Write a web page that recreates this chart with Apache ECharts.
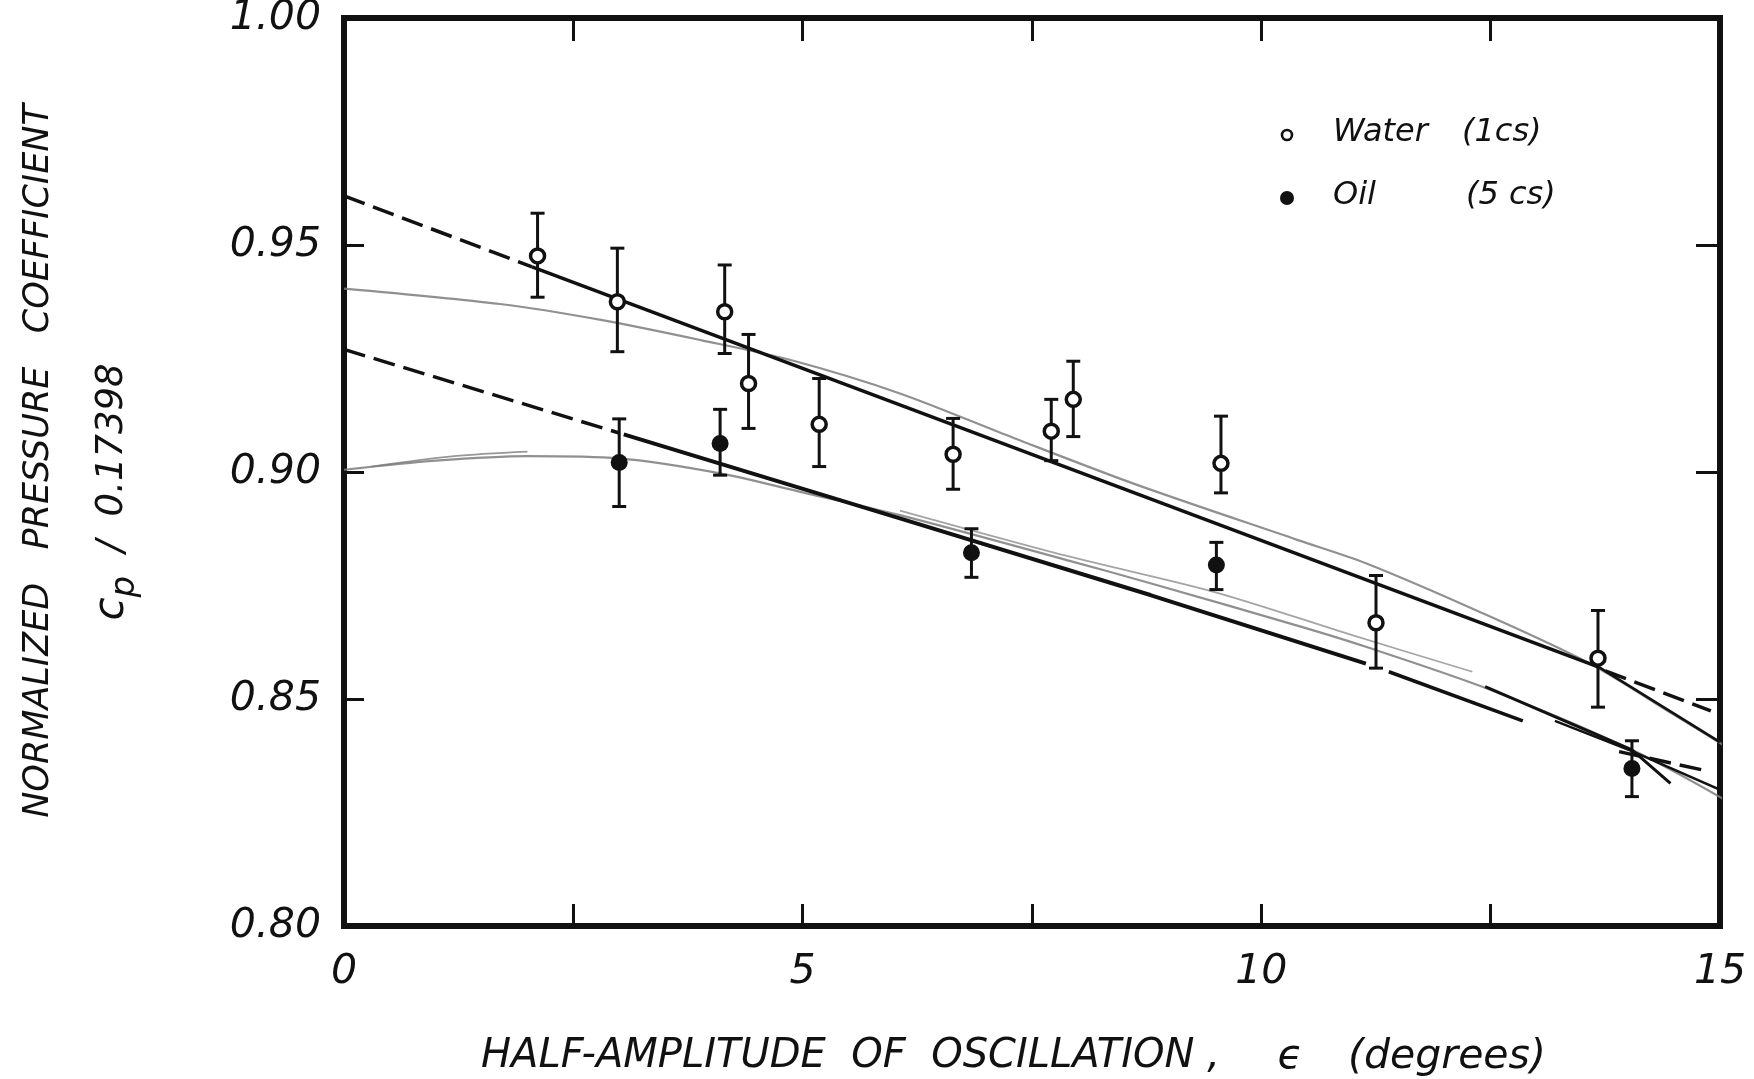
<!DOCTYPE html>
<html>
<head>
<meta charset="utf-8">
<title>Normalized pressure coefficient vs half-amplitude of oscillation</title>
<script src="https://cdn.jsdelivr.net/npm/echarts@6/dist/echarts.min.js"></script>
<style>
  html, body { margin: 0; padding: 0; background: #ffffff; }
  #chart { width: 1754px; height: 1079px; }
</style>
</head>
<body>
<div id="chart"></div>
<script>
// ---- measured points: half-amplitude (deg), Cp/0.17398 and its error band ----
const waterEps = [2.11, 2.98, 4.15, 4.41, 5.18, 6.64, 7.71, 7.95, 9.56, 11.25, 13.67];
const waterVal = [0.9476, 0.9375, 0.9353, 0.9195, 0.9105, 0.9039, 0.9090, 0.9160, 0.9019, 0.8668, 0.8590];
const waterHi  = [0.9570, 0.9493, 0.9456, 0.9303, 0.9206, 0.9118, 0.9160, 0.9244, 0.9123, 0.8772, 0.8695];
const waterLo  = [0.9385, 0.9265, 0.9261, 0.9096, 0.9012, 0.8962, 0.9025, 0.9078, 0.8954, 0.8568, 0.8482];

const oilEps = [3.00, 4.10, 6.84, 9.51, 14.04];
const oilVal = [0.9021, 0.9063, 0.8822, 0.8795, 0.8347];
const oilHi  = [0.9117, 0.9138, 0.8875, 0.8845, 0.8408];
const oilLo  = [0.8924, 0.8993, 0.8768, 0.8741, 0.8285];

// ---- fitted lines (solid over the data, dashed where extrapolated) ----
const waterFitDashLeft  = [[0, 0.9608], [2.05, 0.9452]];
const waterFitSolid     = [[2.05, 0.9452], [13.68, 0.8570]];
const waterFitBend      = [[13.68, 0.8570], [15.0, 0.8405]];
const waterFitDashRight = [[13.75, 0.8562], [14.9, 0.8474]];

const oilFitDashLeft  = [[0, 0.9270], [3.0, 0.9086]];
const oilFitSolid     = [[3.05, 0.9083], [6.06, 0.8898], [8.79, 0.8729], [11.14, 0.8578]];
const oilFitSolidB    = [[11.39, 0.8560], [12.85, 0.8452]];
const oilFitSolidC    = [[12.44, 0.8527], [14.04, 0.8388], [14.46, 0.8314]];
const oilFitSolidD    = [[13.2, 0.8452], [14.04, 0.8385], [15.17, 0.8285]];
const oilFitDashRight = [[13.9, 0.8384], [14.85, 0.8342]];

// ---- pencil-traced theory curves ----
const waterTrace = [[0, 0.9404], [1.7, 0.9370], [2.8, 0.9335], [3.9, 0.9290], [4.9, 0.9245], [6.06, 0.9173],
                    [7.3, 0.9075], [8.6, 0.8975], [10.4, 0.8850], [11.14, 0.8799], [12.4, 0.8690],
                    [13.57, 0.8579], [14.5, 0.8465], [15.3, 0.8366]];
const oilTrace   = [[0, 0.9005], [1.0, 0.9025], [2.0, 0.9035], [3.0, 0.9030], [4.1, 0.8997], [5.0, 0.8955],
                    [6.06, 0.8905], [7.88, 0.8806], [8.79, 0.8755], [10.42, 0.8660], [11.14, 0.8615],
                    [12.5, 0.8520], [14.04, 0.8388], [15.34, 0.8245]];
const oilTraceLeft  = [[0.3, 0.9012], [1.2, 0.9035], [2.0, 0.9045]];
const oilTraceUpper = [[6.06, 0.8915], [7.88, 0.8815], [9.5, 0.8735], [11.0, 0.8640], [12.3, 0.8560]];

// ---- axis tick labels ----
const xTickLabels = ['0', '5', '10', '15'];
const yTickLabels = ['0.80', '0.85', '0.90', '0.95', '1.00'];

const INK = '#111111';
const PENCIL = '#7d7d7d';
const FONT = "'DejaVu Sans', 'Liberation Sans', sans-serif";

const chart = echarts.init(document.getElementById('chart'), null, { renderer: 'canvas' });

function pairs(xs, ys) { return xs.map((x, i) => [x, ys[i]]); }

function curve(data, o) {
  return {
    type: 'line', data: data, symbol: 'none', showSymbol: false, clip: false,
    smooth: o.smooth || 0, silent: true, animation: false, z: o.z || 2,
    lineStyle: { color: o.color || INK, width: o.width || 3.5, type: o.type || 'solid', opacity: o.opacity == null ? 1 : o.opacity }
  };
}

function errorBars(eps, hi, lo) {
  return {
    type: 'custom', silent: true, animation: false, clip: false, z: 3,
    data: eps.map((e, i) => [e, hi[i], lo[i]]),
    renderItem: function (params, api) {
      const top = api.coord([api.value(0), api.value(1)]);
      const bot = api.coord([api.value(0), api.value(2)]);
      const w = 7;
      const st = { stroke: INK, lineWidth: 3 };
      return {
        type: 'group',
        children: [
          { type: 'line', shape: { x1: top[0], y1: top[1], x2: bot[0], y2: bot[1] }, style: st },
          { type: 'line', shape: { x1: top[0] - w, y1: top[1], x2: top[0] + w, y2: top[1] }, style: st },
          { type: 'line', shape: { x1: bot[0] - w, y1: bot[1], x2: bot[0] + w, y2: bot[1] }, style: st }
        ]
      };
    }
  };
}

const axisLineStyle = { show: true, onZero: false, lineStyle: { color: INK, width: 6, cap: 'square' } };
const tickStyle = (len) => ({ show: true, inside: true, length: len, lineStyle: { color: INK, width: 3 } });
const tickFont = { fontSize: 41, fontStyle: 'italic', fontFamily: FONT, color: INK };

function txt(x, y, text, size, align, extra) {
  return Object.assign({
    type: 'text', x: x, y: y, silent: true,
    style: {
      text: text, fontSize: size, fontStyle: 'italic', fontFamily: FONT, fill: INK,
      align: align, textAlign: align, verticalAlign: 'middle', textVerticalAlign: 'middle'
    }
  }, extra || {});
}

const option = {
  animation: false,
  backgroundColor: '#ffffff',
  grid: { left: 344, right: 34, top: 18, bottom: 153, containLabel: false, outerBoundsMode: 'none' },
  xAxis: [
    {
      type: 'value', position: 'bottom', min: 0, max: 15, interval: 2.5,
      axisLine: axisLineStyle, axisTick: tickStyle(22), splitLine: { show: false },
      axisLabel: Object.assign({ margin: 26, formatter: v => (Math.abs(v % 5) < 1e-9 ? xTickLabels[Math.round(v / 5)] : '') }, tickFont)
    },
    {
      type: 'value', position: 'top', min: 0, max: 15, interval: 2.5,
      axisLine: axisLineStyle, axisTick: tickStyle(23), splitLine: { show: false }, axisLabel: { show: false }
    }
  ],
  yAxis: [
    {
      type: 'value', position: 'left', min: 0.8, max: 1.0, interval: 0.05,
      axisLine: axisLineStyle, axisTick: tickStyle(20), splitLine: { show: false },
      axisLabel: Object.assign({ margin: 23, formatter: v => yTickLabels[Math.round((v - 0.8) / 0.05)] }, tickFont)
    },
    {
      type: 'value', position: 'right', min: 0.8, max: 1.0, interval: 0.05,
      axisLine: axisLineStyle, axisTick: tickStyle(24), splitLine: { show: false }, axisLabel: { show: false }
    }
  ],
  series: [
    // pencil traces
    curve(waterTrace, { color: PENCIL, width: 2.2, opacity: 0.85, smooth: 0.3, z: 1 }),
    curve(oilTrace, { color: PENCIL, width: 2.2, opacity: 0.85, smooth: 0.3, z: 1 }),
    curve(oilTraceLeft, { color: PENCIL, width: 1.8, opacity: 0.8, smooth: 0.3, z: 1 }),
    curve(oilTraceUpper, { color: PENCIL, width: 1.8, opacity: 0.7, smooth: 0.3, z: 1 }),
    // water fit
    curve(waterFitDashLeft, { type: [22, 9] }),
    curve(waterFitSolid, {}),
    curve(waterFitBend, { width: 2.6 }),
    curve(waterFitDashRight, { type: [22, 9] }),
    // oil fit
    curve(oilFitDashLeft, { type: [22, 9] }),
    curve(oilFitSolid, { width: 4 }),
    curve(oilFitSolidB, { width: 3.5 }),
    curve(oilFitSolidC, { width: 3 }),
    curve(oilFitSolidD, { width: 2.4 }),
    curve(oilFitDashRight, { type: [22, 9] }),
    // error bars and points
    errorBars(waterEps, waterHi, waterLo),
    errorBars(oilEps, oilHi, oilLo),
    {
      name: 'Water', type: 'scatter', data: pairs(waterEps, waterVal), z: 4, silent: true,
      symbol: 'circle', symbolSize: 14,
      itemStyle: { color: '#ffffff', borderColor: INK, borderWidth: 3.5, opacity: 1 }
    },
    {
      name: 'Oil', type: 'scatter', data: pairs(oilEps, oilVal), z: 4, silent: true,
      symbol: 'circle', symbolSize: 17,
      itemStyle: { color: INK, opacity: 1 }
    }
  ],
  graphic: [
    // y-axis title, two rotated lines
    txt(39, 461, 'NORMALIZED   PRESSURE   COEFFICIENT', 35, 'center', { rotation: Math.PI / 2 }),
    {
      type: 'text', x: 112, y: 492, rotation: Math.PI / 2, silent: true,
      style: {
        text: '{c|c}{p|p}{r|  /  0.17398}',
        align: 'center', textAlign: 'center', verticalAlign: 'middle', textVerticalAlign: 'middle',
        fill: INK,
        rich: {
          c: { fontSize: 42, fontStyle: 'italic', fontFamily: FONT, fill: INK, verticalAlign: 'middle', lineHeight: 60 },
          p: { fontSize: 34, fontStyle: 'italic', fontFamily: FONT, fill: INK, verticalAlign: 'bottom', lineHeight: 34 },
          r: { fontSize: 37, fontStyle: 'italic', fontFamily: FONT, fill: INK, verticalAlign: 'middle', lineHeight: 44 }
        }
      }
    },
    // x-axis title
    txt(481, 1057, 'HALF-AMPLITUDE  OF  OSCILLATION ,', 40, 'left'),
    txt(1290, 1057, '\u03F5', 41, 'center'),
    txt(1348, 1057, '(degrees)', 41, 'left'),
    // key
    { type: 'circle', silent: true, shape: { cx: 1287, cy: 135, r: 5 }, style: { fill: '#ffffff', stroke: INK, lineWidth: 2.6 } },
    txt(1333, 133, 'Water', 32, 'left'),
    txt(1462, 133, '(1cs)', 32, 'left'),
    { type: 'circle', silent: true, shape: { cx: 1287, cy: 198, r: 7 }, style: { fill: INK } },
    txt(1333, 196, 'Oil', 32, 'left'),
    txt(1466, 196, '(5 cs)', 32, 'left')
  ]
};

chart.setOption(option);
</script>
</body>
</html>
